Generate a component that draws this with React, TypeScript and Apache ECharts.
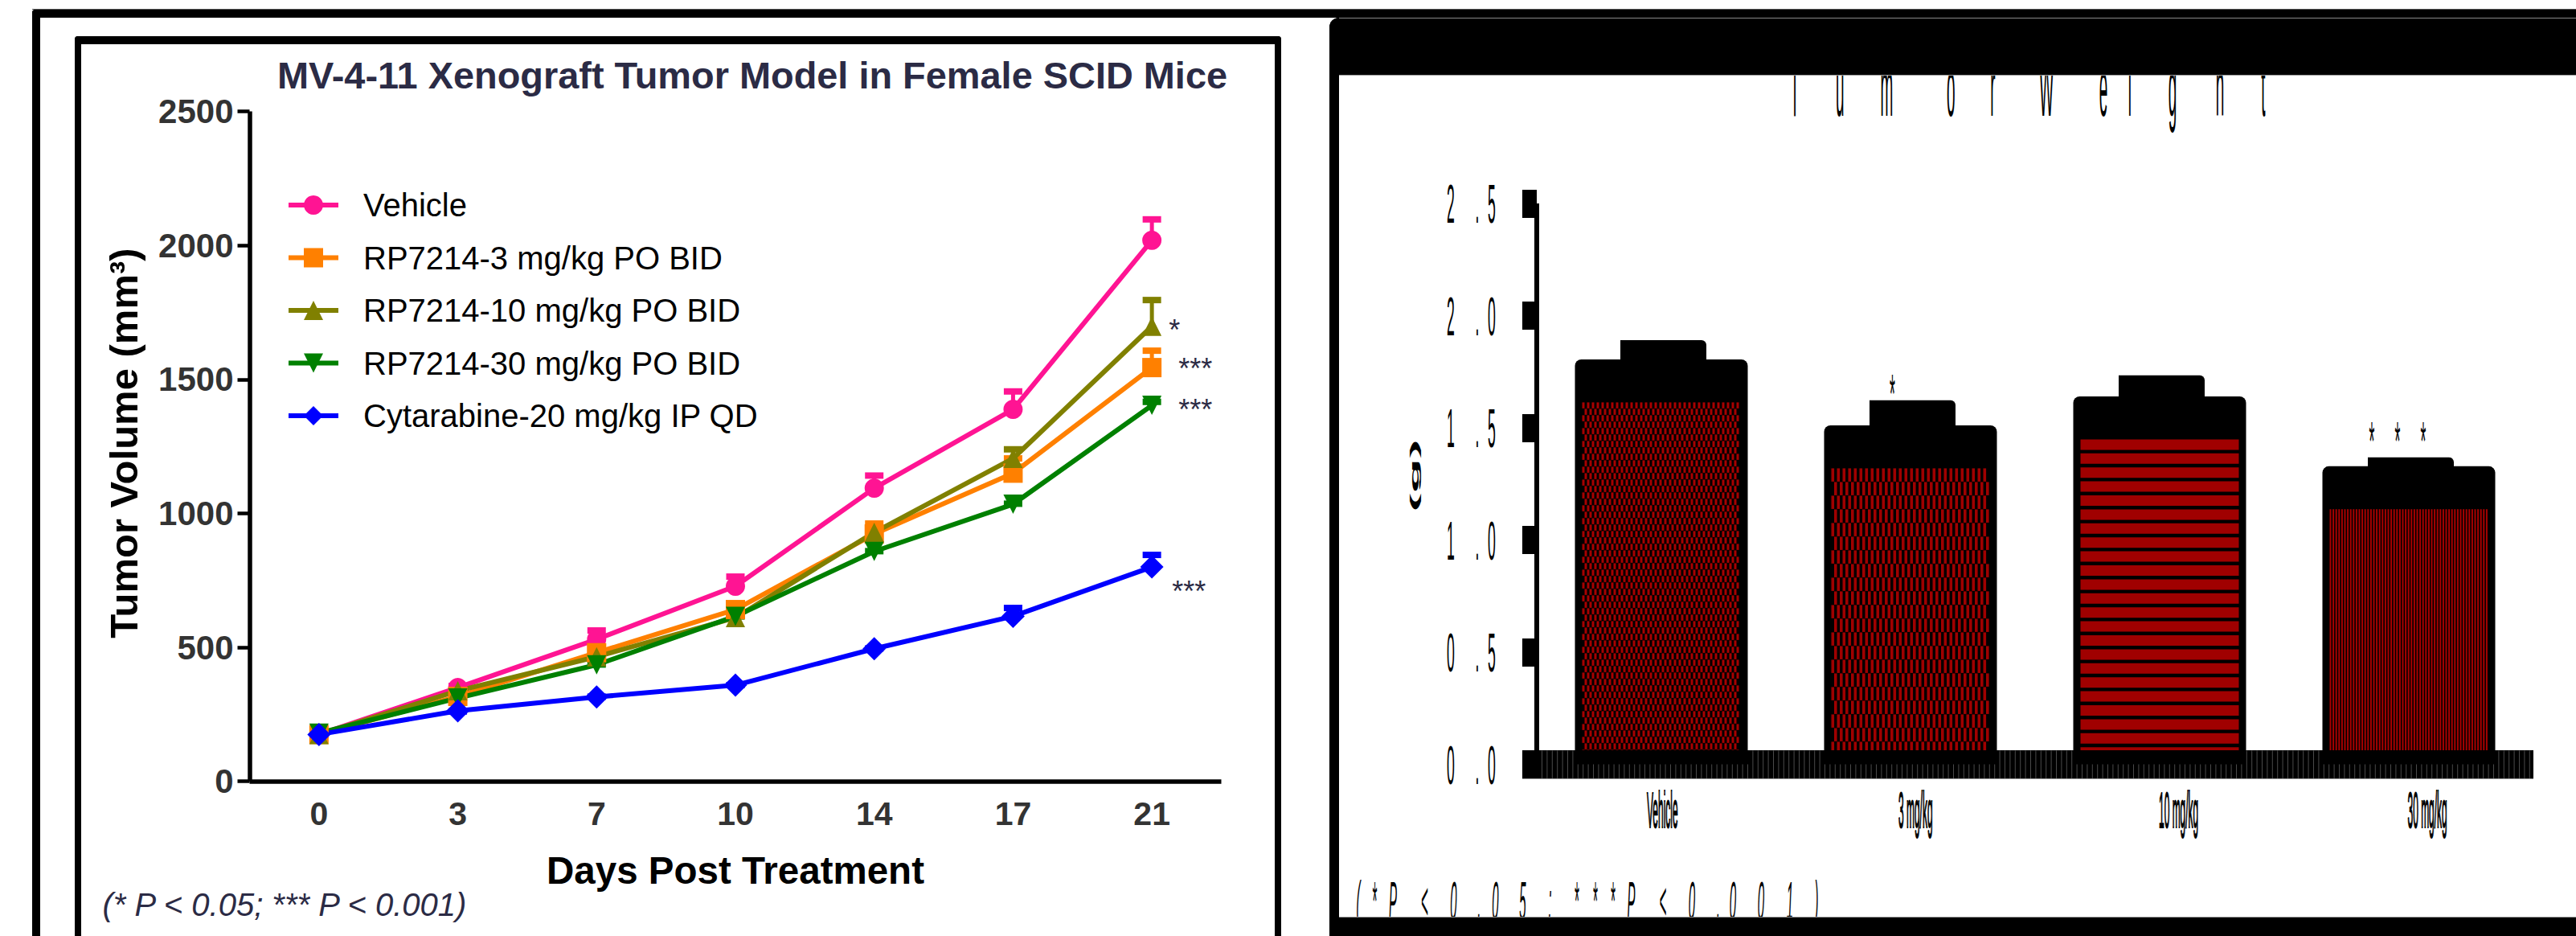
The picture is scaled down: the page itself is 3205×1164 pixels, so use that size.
import React, { useEffect, useRef } from "react";
import * as echarts from "echarts";

const FONT = '"Liberation Sans"';
const INK = "#2b2b45";

const days = ["0", "3", "7", "10", "14", "17", "21"];
const volumeTicks = [0, 500, 1000, 1500, 2000, 2500];

const vehicle = [175, 350, 530, 728, 1094, 1388, 2019];
const vehicleErr = [185, 365, 572, 773, 1150, 1464, 2106];
const rp3 = [175, 317, 480, 641, 923, 1150, 1544];
const rp3Err = [185, 335, 505, 665, 971, 1214, 1616];
const rp10 = [175, 338, 465, 611, 929, 1205, 1698];
const rp10Err = [185, 350, 480, 625, 953, 1248, 1805];
const rp30 = [180, 311, 435, 616, 858, 1034, 1403];
const rp30Err = [188, 320, 445, 625, 868, 1045, 1425];
const cytarabine = [175, 263, 315, 359, 495, 616, 800];
const cytarabineErr = [182, 270, 325, 368, 505, 656, 854];

const lineNames = [
  "Vehicle",
  "RP7214-3 mg/kg PO BID",
  "RP7214-10 mg/kg PO BID",
  "RP7214-30 mg/kg PO BID",
  "Cytarabine-20 mg/kg IP QD",
];
const lineColors = ["#ff1493", "#ff8000", "#808000", "#008000", "#0000ff"];
const lineValues = [vehicle, rp3, rp10, rp30, cytarabine];
const lineErrors = [vehicleErr, rp3Err, rp10Err, rp30Err, cytarabineErr];
const lineSymbols = ["circle", "rect", "triangle", "triangle", "diamond"];
const lineRotate = [0, 0, 0, 180, 0];
const lineSymbolSize = [24, 24, 24, 24, 29];

const sigText = ["*", "***", "***", "***"];
const sigValues = [1698, 1544, 1403, 800];
const sigOffsets = [[28, 5], [54, 1], [54, 5], [46, 30]];

const doses = ["Vehicle", "3 mg/kg", "10 mg/kg", "30 mg/kg"];
const weight = [1.709, 1.415, 1.544, 1.233];
const weightErr = [1.795, 1.527, 1.638, 1.273];
const weightSig = ["", "*", "", "***"];
const weightTicks = [0, 0.5, 1, 1.5, 2, 2.5];
const weightTickLabels = ["0.0", "0.5", "1.0", "1.5", "2.0", "2.5"];

const DOSE_LABEL_LEFT = [2049, 2362, 2686, 2995.5];
const SIG_Y_OFFSET = [0, -35, 0, -47];
const SIG_X_LEFT = [0, 2351, 0, 2947];

const GLYPH_CENTERS: Record<string, number[]> = {
  "Tumor Weight": [2233, 2290, 2348, 2428, 2480, 2547, 2618, 2651, 2704, 2763, 2817],
  "(* P < 0.05; *** P < 0.001)": [1690, 1710, 1733, 1773, 1809, 1841, 1861, 1895, 1929, 1962, 1985, 2007, 2030, 2070, 2106, 2139, 2157, 2192, 2228, 2261],
  "***": [2951, 2983, 3015],
  "0.0": [1805, 1838, 1856],
  "0.5": [1805, 1838, 1856],
  "1.0": [1805, 1838, 1856],
  "1.5": [1805, 1838, 1856],
  "2.0": [1805, 1838, 1856],
  "2.5": [1805, 1838, 1856],
};

const RED = "#a00000";

function applyGlyphPlacement(root: HTMLElement) {
  const ctx = document.createElement("canvas").getContext("2d")!;
  root.querySelectorAll("text").forEach((el: any) => {
    const text = el.textContent || "";
    const centers = GLYPH_CENTERS[text];
    if (!centers || el.getAttribute("dx")) return;
    const m = el.getCTM();
    if (!m || m.e < 1650) return;
    ctx.font = el.style.font || "68px " + FONT;
    let pen = m.e;
    let j = 0;
    const dx: string[] = [];
    for (const ch of text) {
      const adv = ctx.measureText(ch).width * m.a;
      if (ch === " ") {
        dx.push("0");
        pen += adv;
        continue;
      }
      const left = centers[j++] - adv / 2;
      dx.push(((left - pen) / m.a).toFixed(2));
      pen = left + adv;
    }
    el.setAttribute("dx", dx.join(" "));
  });
}

function tx(text: string, x: number, y: number, font: string, fill: string, sx = 1, sy = 1, align = "left", z?: number, rotation?: number, heavy = 0) {
  const o: any = {
    type: "text",
    x,
    y,
    scaleX: sx,
    scaleY: sy,
    silent: true,
    style: { text, font, fill, textAlign: align, textVerticalAlign: "middle" },
  };
  if (heavy) {
    o.style.stroke = fill;
    o.style.lineWidth = heavy;
  }
  if (z !== undefined) o.z = z;
  if (rotation !== undefined) o.rotation = rotation;
  return o;
}

function box(x: number, y: number, w: number, h: number, fill: string, z = 1, r?: any) {
  return { type: "rect", z, silent: true, shape: { x, y, width: w, height: h, r: r || 0 }, style: { fill } };
}

function patternRects(i: number, x0: number, y0: number, w: number, h: number) {
  const out: any[] = [];
  const rect = (x: number, y: number, rw: number, rh: number, fill: string) =>
    out.push({ type: "rect", shape: { x, y, width: rw, height: rh }, style: { fill } });
  const x1 = x0 + w;
  const y1 = y0 + h;
  if (i === 2) {
    for (let y = y0; y < y1; y += 17.4) rect(x0, y, w, Math.min(13, y1 - y), RED);
  } else if (i === 3) {
    for (let x = x0; x < x1 - 1; x += 3.6) rect(x, y0, 2, h, "#a80000");
  } else {
    const rowH = i === 0 ? 8 : 17;
    const period = i === 0 ? 6 : 7;
    const sw = i === 0 ? 3 : 3.6;
    let row = 0;
    for (let y = y0; y < y1; y += rowH, row++) {
      const off = row % 2 ? period / 2 : 0;
      const rh = Math.min(rowH - 0.5, y1 - y);
      for (let x = x0 + off; x < x1 - sw; x += period) rect(x, y, sw, rh, i === 0 ? "#a80000" : RED);
    }
  }
  return out;
}

const BAND = 26.7;

function buildOption() {
  const series: any[] = [];

  lineNames.forEach((name, s) => {
    series.push({
      type: "custom",
      name: name + " error",
      xAxisIndex: 0,
      yAxisIndex: 0,
      z: 2,
      silent: true,
      data: lineValues[s].map((v, i) => [i, v, lineErrors[s][i]]),
      renderItem: (params: any, api: any) => {
        const i = params.dataIndex;
        const a = api.coord([i, lineValues[s][i]]);
        const b = api.coord([i, lineErrors[s][i]]);
        return {
          type: "group",
          children: [
            { type: "rect", shape: { x: a[0] - 2.5, y: b[1], width: 5, height: a[1] - b[1] }, style: { fill: lineColors[s] } },
            { type: "rect", shape: { x: a[0] - 11.5, y: b[1] - 1, width: 23, height: 8 }, style: { fill: lineColors[s] } },
          ],
        };
      },
    });
    series.push({
      type: "line",
      name,
      xAxisIndex: 0,
      yAxisIndex: 0,
      z: 2,
      data: lineValues[s],
      symbol: lineSymbols[s],
      symbolRotate: lineRotate[s],
      symbolSize: lineSymbolSize[s],
      showAllSymbol: true,
      silent: true,
      lineStyle: { color: lineColors[s], width: 6 },
      itemStyle: { color: lineColors[s] },
    });
  });

  series.push({
    type: "custom",
    name: "significance",
    xAxisIndex: 0,
    yAxisIndex: 0,
    z: 3,
    silent: true,
    data: sigValues.map((v) => [6, v]),
    renderItem: (params: any, api: any) => {
      const i = params.dataIndex;
      const p = api.coord([6, sigValues[i]]);
      return tx(sigText[i], p[0] + sigOffsets[i][0], p[1] + sigOffsets[i][1], "36px " + FONT, INK, 1, 1, "center");
    },
  });

  series.push({
    type: "custom",
    name: "Tumor weight",
    xAxisIndex: 1,
    yAxisIndex: 1,
    z: 2,
    silent: true,
    data: weight.map((v, i) => [i, v, weightErr[i]]),
    renderItem: (params: any, api: any) => {
      const i = params.dataIndex;
      const top = api.coord([i, weight[i]]);
      const err = api.coord([i, weightErr[i]]);
      const base = api.coord([i, 0]);
      const cx = top[0];
      return {
        type: "group",
        children: [
          { type: "rect", shape: { x: cx - 51, y: err[1] - BAND, width: 107, height: BAND * 2, r: [0, 6, 0, 0] }, style: { fill: "#000" } },
          { type: "rect", shape: { x: cx - 107.5, y: top[1] - BAND, width: 215, height: base[1] - top[1] + BAND, r: [8, 8, 0, 0] }, style: { fill: "#000" } },
          ...patternRects(i, cx - 98.5, top[1] + BAND, 197, base[1] - top[1] - BAND),
        ],
      };
    },
  });

  series.push({
    type: "custom",
    name: "weight significance",
    xAxisIndex: 1,
    yAxisIndex: 1,
    z: 3,
    silent: true,
    data: weightErr.map((v, i) => [i, v]),
    renderItem: (params: any, api: any) => {
      const i = params.dataIndex;
      if (!weightSig[i]) return null;
      const p = api.coord([i, weightErr[i]]);
      return tx(weightSig[i], SIG_X_LEFT[i], p[1] + SIG_Y_OFFSET[i], "68px " + FONT, "#000", 0.26, 1);
    },
  });

  series.push({
    type: "custom",
    name: "weight axis texture",
    xAxisIndex: 1,
    yAxisIndex: 1,
    z: 60,
    silent: true,
    data: [[0, 0]],
    renderItem: (params: any, api: any) => {
      const o = api.coord([0, 0]);
      const halfStep = api.size([1, 0])[0] / 2;
      const left = o[0] - halfStep;
      const right = api.coord([3, 0])[0] + halfStep;
      const children: any[] = [];
      const inBar = (x: number) =>
        weight.some((_, i) => Math.abs(x - api.coord([i, 0])[0]) < 107.5);
      for (let x = left + 6; x < right; x += 6.4) {
        const y0 = inBar(x) ? o[1] : o[1] - 17;
        children.push({ type: "rect", shape: { x, y: y0, width: 1, height: o[1] + 17.5 - y0 }, style: { fill: "#4a4a4a" } });
      }
      children.push({ type: "rect", shape: { x: left - 18, y: o[1] + 17.5, width: right - left + 18, height: 1 }, style: { fill: "#999" } });
      return { type: "group", children };
    },
  });

  series.push({
    type: "custom",
    name: "weight tick labels",
    xAxisIndex: 1,
    yAxisIndex: 1,
    z: 3,
    silent: true,
    data: weightTicks.map((v) => [0, v]),
    renderItem: (params: any, api: any) => {
      const p = api.coord([0, weightTicks[params.dataIndex]]);
      return tx(weightTickLabels[params.dataIndex], 1800, p[1] + 1, "68px " + FONT, "#000", 0.26, 1);
    },
  });

  series.push({
    type: "custom",
    name: "dose labels",
    xAxisIndex: 1,
    yAxisIndex: 1,
    z: 3,
    silent: true,
    data: doses.map((d, i) => [i, 0]),
    renderItem: (params: any, api: any) => {
      const i = params.dataIndex;
      const p = api.coord([i, 0]);
      return tx(doses[i], DOSE_LABEL_LEFT[i], p[1] + 57, "63px " + FONT, "#000", 0.19, 1, "left", undefined, undefined, 2);
    },
  });

  return {
    animation: false,
    backgroundColor: "#fff",
    title: {
      text: "MV-4-11 Xenograft Tumor Model in Female SCID Mice",
      left: 345,
      top: 70,
      padding: 0,
      textStyle: { fontFamily: FONT, fontSize: 46.9, fontWeight: "bold", color: INK },
    },
    legend: {
      data: lineNames,
      orient: "vertical",
      left: 356,
      top: 235,
      padding: 0,
      itemWidth: 62,
      itemHeight: 30,
      itemGap: 25.5,
      selectedMode: false,
      lineStyle: { width: 6 },
      textStyle: { fontFamily: FONT, fontSize: 40, color: "#000", padding: [0, 0, 0, 26] },
    },
    grid: [
      { left: 310.5, top: 138.5, width: 1209, height: 833.2 },
      { left: 1912, top: 253, width: 1240, height: 697.5 },
    ],
    xAxis: [
      {
        type: "category",
        gridIndex: 0,
        data: days,
        boundaryGap: true,
        name: "Days Post Treatment",
        nameLocation: "middle",
        nameGap: 87,
        nameTextStyle: { fontFamily: FONT, fontSize: 47.5, fontWeight: "bold", color: "#000" },
        axisLine: { lineStyle: { color: "#000", width: 5.5, cap: "butt" } },
        axisTick: { alignWithLabel: true, length: 15, lineStyle: { color: "#000", width: 4.5 } },
        axisLabel: { interval: 0, margin: 20, fontFamily: FONT, fontSize: 41, fontWeight: "bold", color: "#333" },
        splitLine: { show: false },
      },
      {
        type: "category",
        gridIndex: 1,
        data: doses,
        boundaryGap: true,
        z: 5,
        axisLine: { lineStyle: { color: "#000", width: 35, cap: "butt" } },
        axisTick: { alignWithLabel: true, length: 21, lineStyle: { color: "#000", width: 8 } },
        axisLabel: { show: false },
        splitLine: { show: false },
      },
    ],
    yAxis: [
      {
        type: "value",
        gridIndex: 0,
        min: 0,
        max: 2500,
        interval: 500,
        name: "Tumor Volume (mm³)",
        nameLocation: "middle",
        nameGap: 132,
        nameTextStyle: { fontFamily: FONT, fontSize: 49, fontWeight: "bold", color: "#000", padding: [0, 0, 0, 8] },
        axisLine: { show: true, lineStyle: { color: "#000", width: 5.5, cap: "butt" } },
        axisTick: { show: true, length: 15, lineStyle: { color: "#000", width: 4.5 } },
        axisLabel: { margin: 20, fontFamily: FONT, fontSize: 42, fontWeight: "bold", color: "#333", formatter: (v: number) => String(v) },
        splitLine: { show: false },
      },
      {
        type: "value",
        gridIndex: 1,
        min: 0,
        max: 2.5,
        interval: 0.5,
        z: 5,
        axisLine: { show: true, lineStyle: { color: "#000", width: 6, cap: "butt" } },
        axisTick: { show: true, length: 18, lineStyle: { color: "#000", width: 35 } },
        axisLabel: { show: false },
        splitLine: { show: false },
      },
    ],
    series,
    graphic: {
      elements: [
        box(40, 11, 3165, 1, "#555", 1),
        box(40, 12, 3165, 10, "#000", 1, [4, 0, 0, 0]),
        box(40, 12, 10, 1152, "#000", 1, [4, 0, 0, 0]),
        box(93, 45, 1501, 10, "#000", 1, [4, 4, 0, 0]),
        box(93, 45, 8, 1119, "#000", 1, [4, 0, 0, 0]),
        box(1586, 45, 8, 1119, "#000", 1, [0, 4, 0, 0]),
        tx("(* P < 0.05; *** P < 0.001)", 127.5, 1125, "italic 40px " + FONT, INK, 1, 1, "left", 3),
        tx("Tumor Weight", 2226, 109, "100px " + FONT, "#000", 0.19, 1, "left", 3),
        tx("(g)", 1760, 591.5, "bold 40px " + FONT, "#000", 1.78, 0.38, "center", 3, Math.PI / 2),
        tx("(* P < 0.05; *** P < 0.001)", 1688, 1119.5, "italic 68px " + FONT, "#000", 0.22, 1, "left", 3),
        box(1654, 22, 1551, 71, "#000", 10, [12, 0, 0, 0]),
        box(1654, 22, 12, 1142, "#000", 10, [12, 0, 0, 0]),
        box(1666, 22, 1539, 1, "#888", 11),
        box(1666, 93, 1539, 1, "#999", 11),
        box(1654, 1141, 1551, 23, "#000", 10),
        box(1666, 1140, 1539, 1, "#999", 11),
      ],
    },
  };
}

export default function App() {
  const ref = useRef<HTMLDivElement>(null);
  useEffect(() => {
    document.body.style.margin = "0";
    const el = ref.current!;
    const chart = echarts.init(el, undefined, { renderer: "svg", width: 3205, height: 1164 });
    chart.setOption(buildOption() as any);
    const apply = () => applyGlyphPlacement(el);
    apply();
    chart.on("finished", apply);
    const raf = requestAnimationFrame(apply);
    return () => {
      cancelAnimationFrame(raf);
      chart.dispose();
    };
  }, []);
  return <div ref={ref} style={{ position: "absolute", left: 0, top: 0, width: 3205, height: 1164, overflow: "hidden" }} />;
}
